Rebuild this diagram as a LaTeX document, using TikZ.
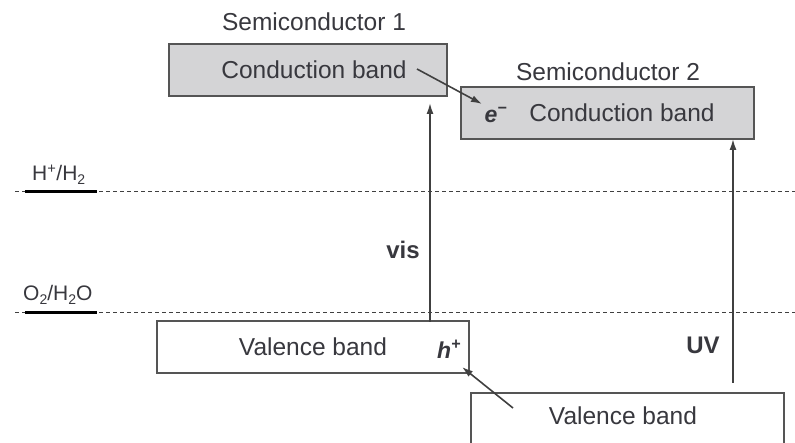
\documentclass[tikz,border=0pt]{standalone}
\usepackage{fontspec}
\setmainfont{Liberation Sans}
\usetikzlibrary{arrows.meta}
\definecolor{txt}{HTML}{38383E}
\definecolor{edge}{HTML}{555555}
\definecolor{bandfill}{HTML}{D4D4D6}
\tikzset{
  band/.style={draw=edge, line width=2pt, minimum width=#1, inner sep=0pt},
  cband/.style={band=#1, fill=bandfill, minimum height=52pt},
  vband/.style={band=#1, fill=white, minimum height=52pt},
  lab/.style={text=txt, font=\fontsize{24.5}{28}\selectfont, inner sep=0pt},
  blab/.style={text=txt, font=\fontsize{24}{28}\selectfont\bfseries, inner sep=0pt},
  ilab/.style={text=txt, font=\fontsize{23}{26}\selectfont\bfseries\itshape, inner sep=0pt},
  redox/.style={text=txt, font=\fontsize{21}{24}\selectfont, inner sep=0pt},
  potline/.style={draw=black!75, line width=1pt, dash pattern=on 4pt off 3pt},
  potmark/.style={draw=black, line width=3pt},
  arr/.style={draw=black!75, line width=1.6pt, -{Latex[length=11pt,width=7pt]}}
}
\newcommand\sbs[1]{\raisebox{-4pt}{\fontsize{14}{16}\selectfont #1}}
\begin{document}
\begin{tikzpicture}[x=1pt,y=-1pt]
\useasboundingbox (0,0) rectangle (795,443);
\clip (0,0) rectangle (795,443);
% potential lines
\coordinate (h1) at (15,192); \coordinate (h2) at (795,192);
\coordinate (o1) at (15,313); \coordinate (o2) at (795,313);
\coordinate (hm1) at (25,192); \coordinate (hm2) at (97,192);
\coordinate (om1) at (25,313); \coordinate (om2) at (97,313);
\draw[potline] (h1) -- (h2);
\draw[potline] (o1) -- (o2);
\draw[potmark] (hm1) -- (hm2);
\draw[potmark] (om1) -- (om2);
\node[redox, anchor=base west] (hlab) at (32,181) {H\textsuperscript{+}/H\sbs{2}};
\node[redox, anchor=base west] (olab) at (23,301) {O\sbs{2}/H\sbs{2}O};
% bands
\node[cband=278pt, anchor=north west] (cb1) at (168,43) {};
\node[lab] (cb1t) at (314,70) {Conduction band};
\node[cband=293pt, anchor=north west] (cb2) at (460,86) {};
\node[lab] (cb2t) at (622,113) {Conduction band};
\node[vband=312pt, anchor=north west] (vb1) at (156,320) {};
\node[lab] (vb1t) at (313,347) {Valence band};
\node[vband=313pt, anchor=north west, minimum height=56pt] (vb2) at (470,392) {};
\node[lab] (vb2t) at (623,416) {Valence band};
% titles
\node[lab] (s1) at (314,22) {Semiconductor 1};
\node[lab] (s2) at (608,72) {Semiconductor 2};
% carriers
\node[ilab] (e) at (496,115) {e\textsuperscript{\char"2212}};
\node[ilab] (h) at (449,349) {h\textsuperscript{+}};
% excitation arrows
\coordinate (visS) at (430,322); \coordinate (visE) at (430,103);
\coordinate (uvS) at (733,383); \coordinate (uvE) at (733,139);
\draw[arr] (visS) -- (visE);
\draw[arr] (uvS) -- (uvE);
\node[blab] (vis) at (403,250) {vis};
\node[blab] (uv) at (703,345) {UV};
% transfer arrows
\coordinate (eS) at (417,69); \coordinate (eE) at (482,104);
\coordinate (hS) at (513,408); \coordinate (hE) at (462,367);
\draw[arr] (eS) -- (eE);
\draw[arr] (hS) -- (hE);
\end{tikzpicture}
\end{document}
